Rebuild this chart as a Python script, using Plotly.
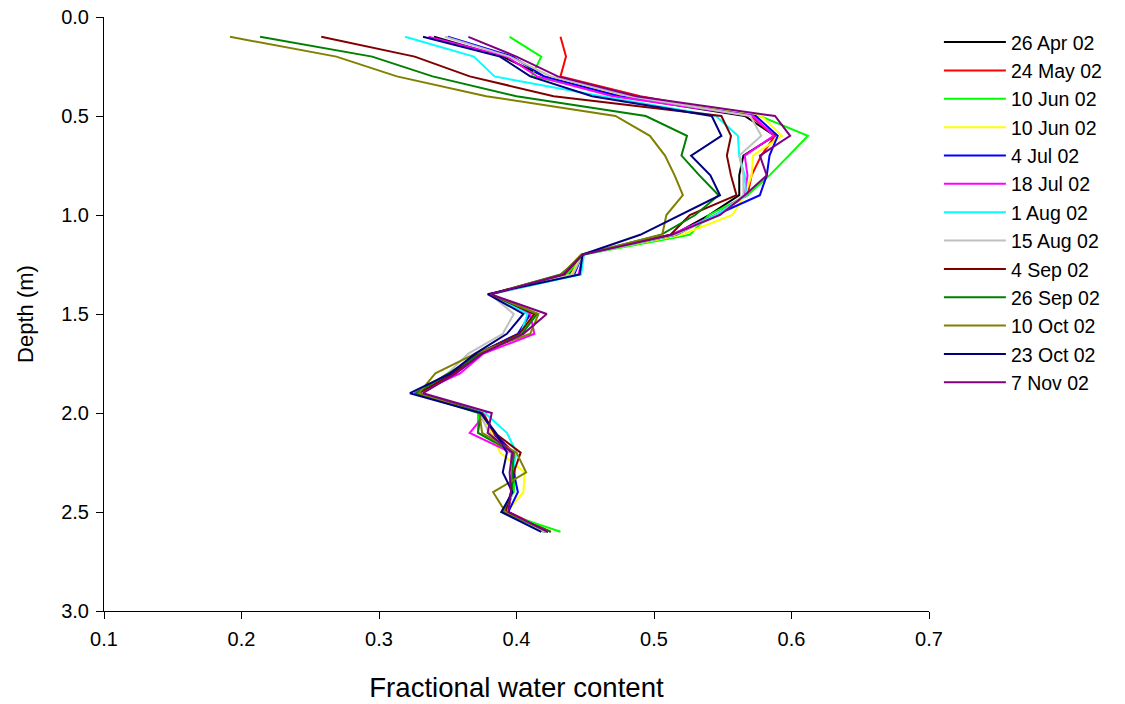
import plotly.graph_objects as go

depth = [0.1, 0.2, 0.3, 0.4, 0.5, 0.6, 0.7, 0.8, 0.9, 1.0, 1.1, 1.2, 1.3,
         1.4, 1.5, 1.6, 1.7, 1.8, 1.9, 2.0, 2.1, 2.2, 2.3, 2.4, 2.5, 2.6]

labels = ["26 Apr 02", "24 May 02", "10 Jun 02", "10 Jun 02", "4 Jul 02", "18 Jul 02",
          "1 Aug 02", "15 Aug 02", "4 Sep 02", "26 Sep 02", "10 Oct 02", "23 Oct 02", "7 Nov 02"]

colors = ["#000000", "#ff0000", "#00ff00", "#ffff00", "#0000ff", "#ff00ff",
          "#00ffff", "#c0c0c0", "#800000", "#008000", "#808000", "#000080", "#800080"]

apr26 = [0.340, 0.390, 0.420, 0.475, 0.566, 0.588, 0.565, 0.562, 0.562, 0.540, 0.514, 0.448, 0.438,
         0.381, 0.410, 0.402, 0.374, 0.353, 0.327, 0.375, 0.382, 0.397, 0.397, 0.397, 0.393, 0.422]
may24 = [0.432, 0.436, 0.432, 0.490, 0.570, 0.588, 0.578, 0.571, 0.568, 0.545, 0.515, 0.448, 0.440,
         0.381, 0.410, 0.403, 0.373, 0.354, 0.328, 0.376, 0.383, 0.398, 0.398, 0.396, 0.394, 0.425]
jun10a = [0.395, 0.418, 0.411, 0.480, 0.577, 0.612, 0.598, 0.584, 0.568, 0.540, 0.526, 0.449, 0.437,
          0.381, 0.414, 0.404, 0.373, 0.352, 0.327, 0.372, 0.372, 0.397, 0.399, 0.398, 0.389, 0.432]
jun10b = [0.350, 0.395, 0.425, 0.478, 0.578, 0.593, 0.572, 0.571, 0.566, 0.557, 0.520, 0.448, 0.440,
          0.380, 0.412, 0.402, 0.371, 0.355, 0.328, 0.374, 0.382, 0.388, 0.406, 0.405, 0.393, 0.421]
jul04 = [0.350, 0.397, 0.420, 0.475, 0.574, 0.590, 0.584, 0.582, 0.577, 0.545, 0.516, 0.448, 0.442,
         0.381, 0.410, 0.401, 0.372, 0.353, 0.326, 0.374, 0.384, 0.397, 0.398, 0.401, 0.394, 0.421]
jul18 = [0.336, 0.393, 0.415, 0.470, 0.572, 0.587, 0.566, 0.568, 0.566, 0.545, 0.512, 0.449, 0.445,
         0.381, 0.410, 0.413, 0.376, 0.359, 0.328, 0.378, 0.366, 0.396, 0.397, 0.396, 0.393, 0.420]
aug01 = [0.319, 0.369, 0.384, 0.462, 0.545, 0.561, 0.562, 0.566, 0.567, 0.545, 0.515, 0.449, 0.447,
         0.381, 0.408, 0.403, 0.372, 0.353, 0.327, 0.377, 0.393, 0.400, 0.397, 0.397, 0.392, 0.420]
aug15 = [0.348, 0.395, 0.425, 0.482, 0.570, 0.578, 0.562, 0.565, 0.565, 0.548, 0.515, 0.448, 0.441,
         0.381, 0.398, 0.390, 0.365, 0.350, 0.327, 0.373, 0.380, 0.396, 0.397, 0.397, 0.393, 0.421]
sep04 = [0.258, 0.326, 0.366, 0.427, 0.549, 0.556, 0.553, 0.556, 0.560, 0.526, 0.512, 0.448, 0.435,
         0.381, 0.413, 0.402, 0.372, 0.354, 0.329, 0.375, 0.384, 0.403, 0.398, 0.396, 0.392, 0.423]
sep26 = [0.2135, 0.295, 0.339, 0.400, 0.494, 0.524, 0.520, 0.533, 0.547, 0.530, 0.505, 0.449, 0.432,
         0.381, 0.415, 0.404, 0.374, 0.351, 0.327, 0.374, 0.372, 0.398, 0.397, 0.397, 0.390, 0.425]
oct10 = [0.1916, 0.269, 0.313, 0.378, 0.472, 0.497, 0.508, 0.515, 0.521, 0.509, 0.506, 0.447, 0.433,
         0.381, 0.416, 0.410, 0.370, 0.341, 0.329, 0.373, 0.375, 0.400, 0.407, 0.383, 0.392, 0.423]
oct23 = [0.332, 0.388, 0.410, 0.455, 0.542, 0.549, 0.527, 0.541, 0.548, 0.519, 0.490, 0.448, 0.446,
         0.379, 0.405, 0.393, 0.370, 0.352, 0.3225, 0.374, 0.385, 0.393, 0.390, 0.397, 0.389, 0.418]
nov07 = [0.365, 0.400, 0.430, 0.487, 0.588, 0.599, 0.577, 0.582, 0.566, 0.548, 0.513, 0.448, 0.434,
         0.381, 0.422, 0.405, 0.375, 0.356, 0.332, 0.382, 0.379, 0.397, 0.395, 0.396, 0.394, 0.423]

series = [apr26, may24, jun10a, jun10b, jul04, jul18, aug01, aug15, sep04, sep26, oct10, oct23, nov07]

fig = go.Figure()
for name, col, vals in zip(labels, colors, series):
    fig.add_trace(go.Scatter(x=vals, y=depth, mode="lines", name=name,
                             line=dict(color=col, width=2)))

font_family = "Liberation Sans, Arial, sans-serif"
axis_common = dict(showgrid=False, zeroline=False, showline=True, linecolor="black",
                   linewidth=1, ticks="outside", ticklen=7, tickcolor="black",
                   tickfont=dict(size=20, color="black", family=font_family),
                   mirror=False, automargin=False, ticklabelstandoff=3,
                   ticklabeloverflow="allow")

fig.update_layout(
    width=1125, height=704,
    paper_bgcolor="white", plot_bgcolor="white",
    margin=dict(l=96, r=204, t=9, b=101),
    font=dict(family=font_family, color="black"),
    xaxis=dict(range=[0.1, 0.7], dtick=0.1, tick0=0.1, tickformat=".1f",
               title=dict(text="Fractional water content", font=dict(size=27.6), standoff=28),
               **axis_common),
    yaxis=dict(range=[3.0, 0.0], dtick=0.5, tick0=0, tickformat=".1f",
               title=dict(text="Depth (m)", font=dict(size=22), standoff=21),
               **axis_common),
    legend=dict(x=1.012, y=0.99, xanchor="left", yanchor="top",
                font=dict(size=19.5, color="black", family=font_family),
                itemwidth=62, tracegroupgap=0, bgcolor="rgba(0,0,0,0)"),
    showlegend=True,
)

fig.write_html("out.html")
